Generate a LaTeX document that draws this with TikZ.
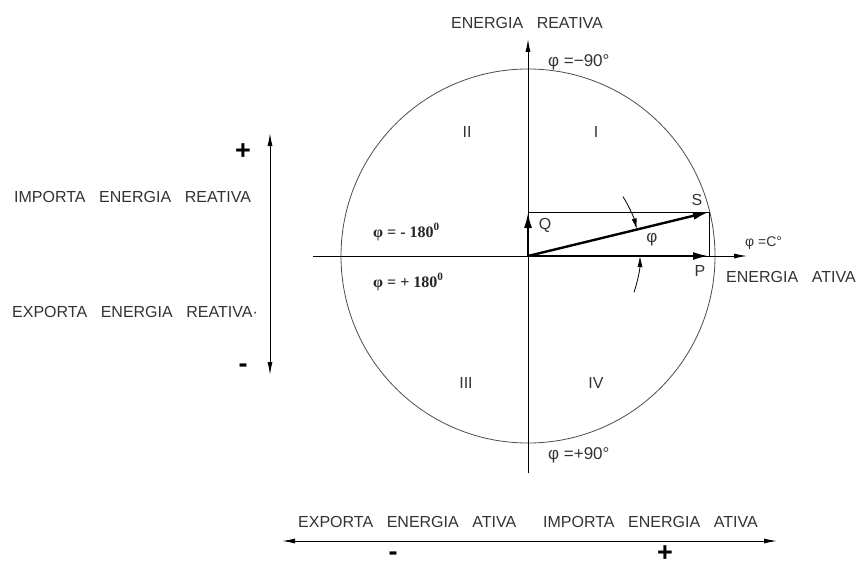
\documentclass[tikz,border=0pt]{standalone}
\usepackage{fontspec}
\setmainfont{Liberation Sans}
\newfontfamily\anglefont{Liberation Serif}
\usetikzlibrary{arrows.meta,positioning}
\newcommand\wgap{\hspace{0.85em}}

\begin{document}
\begin{tikzpicture}[
    x=1pt,y=-1pt,
    lbl/.style={font=\fontsize{16}{19}\selectfont,text=black!80,inner sep=0pt},
    sign/.style={font=\fontsize{27}{29}\selectfont\bfseries,inner sep=0pt},
    anglelbl/.style={font=\anglefont\bfseries\fontsize{16}{18}\selectfont,text=black!85,inner sep=0pt,anchor=west},
    philbl/.style={font=\fontsize{17}{19}\selectfont,text=black!80,inner sep=0pt,anchor=west},
    axis/.style={line width=0.9pt,-{Latex[length=13pt,width=5pt]}},
    span/.style={line width=1pt,{Latex[length=13pt,width=5pt]}-{Latex[length=13pt,width=5pt]}},
    phasor/.style={line width=2.4pt,-{Latex[length=16pt,width=8pt]}},
    guide/.style={line width=0.8pt},
    circ/.style={line width=0.8pt,black!70},
    anglearc/.style={line width=0.8pt,-{Latex[length=11pt,width=5pt]}}
]
\useasboundingbox (0,0) rectangle (858,567);

\coordinate (O) at (528,256);
\coordinate (Qend) at (528,212);
\coordinate (Send) at (709,212);
\coordinate (Pend) at (709,256);
\coordinate (xleft) at (313,256);
\coordinate (xright) at (747,256);
\coordinate (ytop) at (528,39);
\coordinate (ybot) at (528,473);
\coordinate (rtop) at (270,133);
\coordinate (rbot) at (270,375);
\coordinate (aleft) at (282,541);
\coordinate (aright) at (777,541);

\draw[circ] (O) circle[radius=187pt];
\draw[axis] (xleft) -- (xright);
\draw[axis] (ybot) -- (ytop);
\draw[guide] (Qend) -- (Send) -- (Pend);
\draw[phasor] (O) -- (Qend);
\draw[phasor] (O) -- (Send);
\draw[phasor] (O) -- (Pend);
\draw[anglearc] ([shift={(32:112pt)}]O) arc[start angle=32,end angle=13.7,radius=112pt];
\draw[anglearc] ([shift={(-19:112pt)}]O) arc[start angle=-19,end angle=0,radius=112pt];
\draw[span] (rbot) -- (rtop);
\draw[span] (aleft) -- (aright);

\node[lbl] (reatTitle) at (527,23) {ENERGIA\wgap REATIVA};
\node[philbl] (phiTop) at (548,62) {φ =−90°};
\node[philbl] (phiBot) at (548,455) {φ =+90°};
\node[philbl,font=\fontsize{14}{16}\selectfont] (phiZero) at (745,243) {φ =C°};
\node[lbl,anchor=west] (ativaLbl) at (726,277) {ENERGIA\wgap ATIVA};

\node[lbl] (quadII) at (467,132) {II};
\node[lbl] (quadI) at (596,132) {I};
\node[lbl] (quadIII) at (466,383) {III};
\node[lbl] (quadIV) at (596,383) {IV};

\node[anglelbl] (phiNeg) at (373,232) {φ = - 180\textsuperscript{0}};
\node[anglelbl] (phiPos) at (373,282) {φ = + 180\textsuperscript{0}};

\node[lbl] (Q) at (545,225) {Q};
\node[lbl] (S) at (697,200) {S};
\node[lbl] (P) at (700,271) {P};
\node[philbl,anchor=center] (phiAng) at (652,240) {φ};

\node[lbl,anchor=west] (impReat) at (14,197) {IMPORTA\wgap ENERGIA\wgap REATIVA};
\node[lbl,anchor=west] (expReat) at (12,312) {EXPORTA\wgap ENERGIA\wgap REATIVA·};
\node[sign] (plusR) at (243,152) {+};
\node[sign] (minusR) at (243,368) {-};

\node[lbl,anchor=west] (expAtiva) at (298,522) {EXPORTA\wgap ENERGIA\wgap ATIVA};
\node[lbl,anchor=west] (impAtiva) at (543,522) {IMPORTA\wgap ENERGIA\wgap ATIVA};
\node[sign] (minusA) at (393,556) {-};
\node[sign] (plusA) at (665,554) {+};

\end{tikzpicture}
\end{document}
